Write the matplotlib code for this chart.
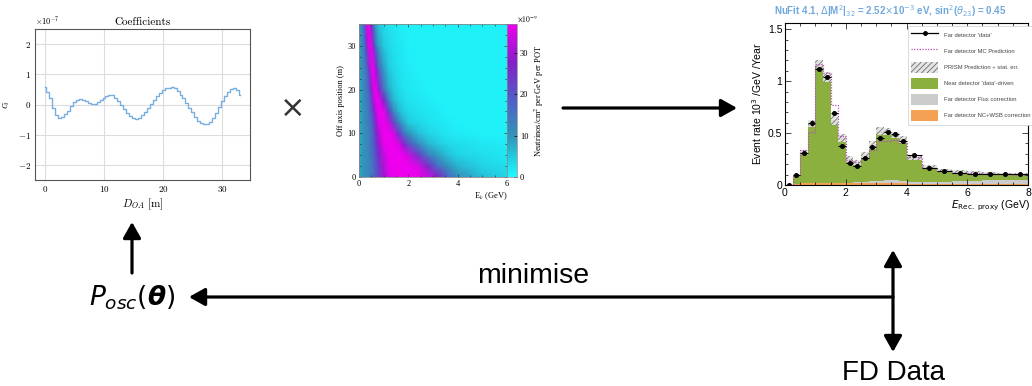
import numpy as np
import matplotlib
matplotlib.use("Agg")
import matplotlib.pyplot as plt
from matplotlib.colors import LinearSegmentedColormap
from matplotlib.patches import Patch
from matplotlib.lines import Line2D
from matplotlib.ticker import FuncFormatter, MultipleLocator

plt.rcParams['font.family'] = ['Liberation Sans', 'DejaVu Sans']
plt.rcParams['mathtext.fontset'] = 'cm'
plt.rcParams['hatch.linewidth'] = 0.5

# ---------------- data: coefficients panel ----------------
oa_positions = np.linspace(0, 33, 67)
coeffs = [0.58, 0.43, 0.22, -0.12, -0.35, -0.44, -0.42, -0.33, -0.20, -0.05,
          0.08, 0.16, 0.18, 0.15, 0.10, 0.05, 0.02, 0.03, 0.09, 0.16,
          0.23, 0.29, 0.32, 0.30, 0.23, 0.12, 0.00, -0.15, -0.28, -0.38,
          -0.45, -0.47, -0.44, -0.36, -0.25, -0.12, 0.02, 0.15, 0.28, 0.38,
          0.47, 0.53, 0.56, 0.57, 0.53, 0.45, 0.33, 0.20, 0.05, -0.10,
          -0.25, -0.40, -0.53, -0.62, -0.66, -0.66, -0.58, -0.45, -0.28, -0.08,
          0.12, 0.28, 0.42, 0.50, 0.53, 0.48, 0.30]

# ---------------- data: flux heatmap ----------------
flux_energy = [0, 0.1, 0.2, 0.3, 0.4, 0.5, 0.6, 0.7, 0.8, 1.0, 1.2, 1.4, 1.6, 1.8,
               2.0, 2.4, 2.8, 3.2, 3.6, 4.0, 5.0, 6.0]
flux_offaxis = [0, 2.5, 5, 7.5, 10, 12.5, 15, 17.5, 20, 25, 30, 35]
flux_values = [
    [8, 9, 10, 11, 12, 14, 17, 20, 23, 30, 35, 38, 40, 40, 40, 38, 34, 28, 18, 11, 6, 4],
    [8, 9, 10, 11, 12, 14, 17, 20, 24, 31, 36, 39, 40, 40, 39, 35, 26, 16, 10, 7, 4, 3],
    [8, 9, 10, 11, 12, 15, 18, 22, 26, 33, 38, 40, 40, 38, 34, 24, 14, 9, 6, 4, 3, 2],
    [8, 9, 10, 11, 13, 16, 19, 24, 29, 36, 40, 40, 36, 29, 21, 12, 7, 5, 3.5, 3, 2, 1.5],
    [8, 9, 10, 11, 13, 16, 20, 26, 32, 38, 40, 35, 25, 16, 10, 6, 4, 3, 2, 1.5, 1, 1],
    [8, 9, 10, 12, 14, 17, 22, 29, 35, 40, 34, 22, 13, 8, 5, 3.5, 2.5, 2, 1.5, 1, 1, 1],
    [8, 9, 10, 12, 15, 19, 26, 33, 38, 37, 24, 12, 7, 4.5, 3.5, 2.5, 2, 1.5, 1, 1, 1, 1],
    [8, 9, 11, 13, 16, 22, 31, 38, 38, 28, 14, 7, 4.5, 3.5, 2.5, 2, 1.5, 1, 1, 1, 1, 1],
    [8, 9, 11, 14, 18, 26, 36, 38, 30, 16, 8, 5, 3.5, 2.5, 2, 1.5, 1, 1, 1, 1, 1, 1],
    [8, 10, 12, 16, 24, 36, 37, 28, 18, 9, 5, 3.5, 2.5, 2, 1.5, 1, 1, 1, 1, 1, 1, 1],
    [8, 10, 14, 24, 36, 36, 24, 14, 9, 5, 3.5, 2.5, 2, 1.5, 1, 1, 1, 1, 1, 1, 1, 1],
    [8, 11, 18, 34, 38, 26, 14, 8, 5, 3.5, 2.5, 2, 1.5, 1, 1, 1, 1, 1, 1, 1, 1, 1],
]

# ---------------- data: PRISM prediction panel ----------------
bin_edges = [0, 0.25, 0.5, 0.75, 1.0, 1.25, 1.5, 1.75, 2.0, 2.25, 2.5, 2.75, 3.0,
             3.25, 3.5, 3.75, 4.0, 4.5, 5.0, 5.5, 6.0, 6.5, 7.0, 7.5, 8.0]
fd_data = [0.0, 0.10, 0.31, 0.595, 1.115, 1.043, 0.69, 0.38, 0.21, 0.183, 0.263, 0.363,
           0.455, 0.513, 0.49, 0.424, 0.285, 0.167, 0.13, 0.12, 0.11, 0.11, 0.11, 0.105]
fd_mc = [0.0, 0.10, 0.335, 0.51, 1.17, 1.08, 0.77, 0.47, 0.24, 0.22, 0.257, 0.337,
         0.42, 0.42, 0.43, 0.40, 0.27, 0.16, 0.13, 0.12, 0.115, 0.11, 0.105, 0.10]
nd_driven = [0.0, 0.093, 0.291, 0.575, 1.141, 1.016, 0.606, 0.434, 0.227, 0.19, 0.263, 0.35,
             0.48, 0.47, 0.435, 0.395, 0.232, 0.143, 0.113, 0.093, 0.078, 0.068, 0.063, 0.063]
flux_corr = [0, 0.002, 0.004, 0.005, 0.006, 0.006, 0.006, 0.006, 0.008, 0.01, 0.012, 0.02,
             0.025, 0.03, 0.03, 0.025, 0.02, 0.02, 0.02, 0.025, 0.03, 0.035, 0.035, 0.035]
nc_wsb_corr = [0, 0.005, 0.015, 0.015, 0.018, 0.018, 0.018, 0.015, 0.015, 0.015, 0.015, 0.015,
               0.015, 0.015, 0.015, 0.015, 0.013, 0.012, 0.012, 0.012, 0.012, 0.012, 0.012, 0.012]
pred_err = [0.0, 0.01, 0.025, 0.033, 0.038, 0.048, 0.05, 0.04, 0.028, 0.025, 0.032, 0.035,
            0.04, 0.035, 0.03, 0.035, 0.022, 0.015, 0.012, 0.01, 0.01, 0.01, 0.01, 0.01]

W, H = 1032, 386
fig = plt.figure(figsize=(W / 100, H / 100), dpi=100)


def box(x0, y0, x1, y1):
    return [x0 / W, 1 - y1 / H, (x1 - x0) / W, (y1 - y0) / H]


# ---------------- overlay (arrows / text) ----------------
ov = fig.add_axes([0, 0, 1, 1])
ov.set_xlim(0, W)
ov.set_ylim(H, 0)
ov.axis('off')


def arrow(p0, p1, style='-|>'):
    ov.annotate('', xy=p1, xytext=p0,
                arrowprops=dict(arrowstyle=style + ',head_length=0.8,head_width=0.45',
                                lw=2.3, color='black', shrinkA=0, shrinkB=0,
                                mutation_scale=12))


ov.text(293, 108, '×', fontsize=22, ha='center', va='center', color='#333333',
        family='DejaVu Sans')
arrow((563, 108), (737, 108))
arrow((132, 273), (132, 222))
arrow((893, 297), (189, 297))
arrow((893, 250), (893, 352), style='<|-|>')
ov.text(132, 298, r'$P_{osc}(\boldsymbol{\theta})$', fontsize=19, ha='center',
        va='center', math_fontfamily='dejavusans')
ov.text(533, 276, 'minimise', fontsize=20.5, ha='center', va='center')
ov.text(893, 373, 'FD Data', fontsize=20, ha='center', va='center')

# ---------------- left: coefficients ----------------
ax1 = fig.add_axes(box(35, 29, 250, 180))
ax1.plot(oa_positions, coeffs, drawstyle='steps-mid', color='#7aaede', lw=1.0)
ax1.set_xlim(-1.65, 34.65)
ax1.set_ylim(-2.5, 2.5)
ax1.set_xticks([0, 10, 20, 30])
ax1.set_yticks([-2, -1, 0, 1, 2])
fmt = FuncFormatter(lambda v, p: r'$%d$' % int(round(v)))
ax1.xaxis.set_major_formatter(fmt)
ax1.yaxis.set_major_formatter(fmt)
ax1.tick_params(length=0, labelsize=6.5, pad=3)
ax1.grid(True, color='#dcdcdc', lw=0.8)
ax1.set_axisbelow(True)
for s in ax1.spines.values():
    s.set_color('#555555')
    s.set_linewidth(0.8)
ax1.set_title('Coefficients', fontsize=8, family='cmr10', pad=3)
ax1.set_xlabel(r'$D_{OA}$ [m]', fontsize=8, family='cmr10', labelpad=2)
ax1.set_ylabel(r'$c_i$', fontsize=8, labelpad=4)
ax1.text(0.0, 1.01, r'$\times10^{-7}$', transform=ax1.transAxes, fontsize=6,
         ha='left', va='bottom')

# ---------------- middle: flux heatmap ----------------
cmap = LinearSegmentedColormap.from_list('flux', [
    (0.0, '#1ff9ff'), (0.12, '#22cfe2'), (0.27, '#3392b8'), (0.5, '#5060c8'),
    (0.75, '#8420c8'), (1.0, '#ee00ee')])
ax2 = fig.add_axes(box(359, 24, 507, 177))
pc = ax2.pcolormesh(flux_energy, flux_offaxis, flux_values, shading='gouraud',
                    cmap=cmap, vmin=0, vmax=37)
ax2.set_xlim(0, 6)
ax2.set_ylim(0, 35)
ax2.set_xticks([0, 2, 4, 6])
ax2.set_yticks([0, 10, 20, 30])
ax2.xaxis.set_minor_locator(MultipleLocator(0.5))
ax2.yaxis.set_minor_locator(MultipleLocator(2.5))
ax2.tick_params(which='both', direction='in', top=True, right=True, labelsize=6,
                length=2, width=0.5, color='#333333', pad=2)
ax2.tick_params(which='minor', length=1.2)
for lab in ax2.get_xticklabels() + ax2.get_yticklabels():
    lab.set_family('Liberation Serif')
for s in ax2.spines.values():
    s.set_color('#888888')
    s.set_linewidth(0.6)
ax2.set_ylabel('Off axis position (m)', fontsize=6, family='Liberation Serif', labelpad=2)
ax2.set_xlabel(r'E$_{\nu}$ (GeV)', fontsize=6, family='Liberation Serif',
               math_fontfamily='stix', loc='right', labelpad=2)

cax = fig.add_axes(box(507, 24, 517, 177))
cb = fig.colorbar(pc, cax=cax)
cb.set_ticks([0, 10, 20, 30])
cb.ax.tick_params(labelsize=6, length=2, width=0.5, direction='in', pad=2)
for lab in cb.ax.get_yticklabels():
    lab.set_family('Liberation Serif')
cb.outline.set_linewidth(0.5)
cb.outline.set_edgecolor('#888888')
cb.set_label(r'Neutrinos/cm$^2$ per GeV per POT', fontsize=6, family='Liberation Serif',
             math_fontfamily='stix', labelpad=3)
cax.text(1.0, 1.0, r'$\times10^{-9}$', transform=cax.transAxes, fontsize=5.5,
         ha='left', va='bottom', math_fontfamily='stix')

# ---------------- right: PRISM prediction ----------------
ax3 = fig.add_axes(box(785, 23, 1028, 185))
edges = np.array(bin_edges)
nc = np.array(nc_wsb_corr)
fl = np.array(flux_corr)
nd = np.array(nd_driven)
err = np.array(pred_err)
c_orange, c_gray, c_green = '#f4a154', '#cccccc', '#8cb040'
ax3.stairs(nc, edges, baseline=0, fill=True, color=c_orange, lw=0)
ax3.stairs(nc + fl, edges, baseline=nc, fill=True, color=c_gray, lw=0)
total = nc + fl + nd
ax3.stairs(total, edges, baseline=nc + fl, fill=True, color=c_green, lw=0)
ax3.stairs(total + err, edges, baseline=total - err, fill=True, facecolor='#e4e4e4',
           edgecolor='#555555', hatch='//////', lw=0, alpha=0.9)
ax3.stairs(fd_mc, edges, color='#b84cb8', ls=(0, (1, 1.2)), lw=0.9)
centers = 0.5 * (edges[1:] + edges[:-1])
halfw = 0.5 * (edges[1:] - edges[:-1])
ax3.errorbar(centers, fd_data, xerr=halfw, fmt='o', ms=2.6, color='black',
             elinewidth=0.8, capsize=0)
ax3.set_xlim(0, 8)
ax3.set_ylim(0, 1.56)
ax3.set_xticks([0, 2, 4, 6, 8])
ax3.set_yticks([0, 0.5, 1, 1.5])
ax3.yaxis.set_major_formatter(FuncFormatter(lambda v, p: '%g' % v))
ax3.xaxis.set_minor_locator(MultipleLocator(0.5))
ax3.yaxis.set_minor_locator(MultipleLocator(0.1))
ax3.tick_params(which='both', direction='in', top=True, right=True, labelsize=7.5,
                width=0.5, pad=2)
ax3.tick_params(which='major', length=4)
ax3.tick_params(which='minor', length=2)
for s in ax3.spines.values():
    s.set_linewidth(0.8)
ax3.set_ylabel(r'Event rate 10$^3$ /GeV /Year', fontsize=7.5, labelpad=3,
               math_fontfamily='dejavusans')
fig.text(1030 / W, 1 - 206 / H, r'$E_{\mathrm{Rec.\ proxy}}$ (GeV)', fontsize=7.5,
         ha='right', va='center', math_fontfamily='dejavusans')
fig.text(890 / W, 1 - 11 / H,
         r'NuFit 4.1, $\Delta$|M$^2$|$_{32}$ = 2.52$\times$10$^{-3}$ eV, sin$^2$($\theta_{23}$) = 0.45',
         fontsize=7, color='#6fa8dc', weight='bold', ha='center', va='center',
         math_fontfamily='dejavusans')

handles = [
    Line2D([], [], color='black', marker='o', ms=2.5, lw=0.9),
    Line2D([], [], color='#b84cb8', ls=(0, (1, 1.2)), lw=0.9),
    Patch(facecolor='#e4e4e4', edgecolor='#555555', hatch='//////', lw=0),
    Patch(facecolor=c_green, lw=0),
    Patch(facecolor=c_gray, lw=0),
    Patch(facecolor=c_orange, lw=0),
]
labels = ["Far detector 'data'", 'Far detector MC Prediction', 'PRISM Prediction + stat. err.',
          "Near detector 'data'-driven", 'Far detector Flux correction',
          'Far detector NC+WSB correction']
leg = ax3.legend(handles, labels, loc='upper left', bbox_to_anchor=(905 / W, 1 - 23 / H),
                 bbox_transform=fig.transFigure, fontsize=4.2, handlelength=4.5,
                 handleheight=2.7, labelspacing=0.75, borderpad=0.6, handletextpad=1.0,
                 fancybox=False, framealpha=1, edgecolor='#cccccc', labelcolor='#444444')
leg.get_frame().set_linewidth(0.5)

fig.savefig('out.png', dpi=100)
